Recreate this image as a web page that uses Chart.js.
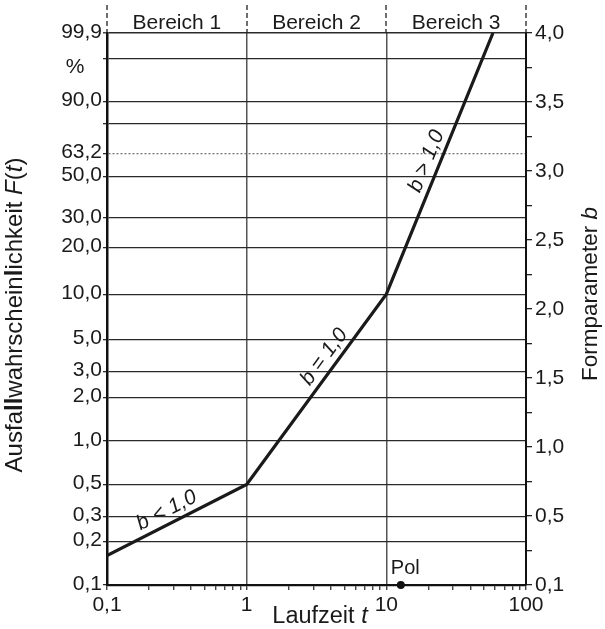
<!DOCTYPE html>
<html>
<head>
<meta charset="utf-8">
<script src="https://cdn.jsdelivr.net/npm/chart.js@4.4.0/dist/chart.umd.min.js"></script>
<style>
  html, body { margin: 0; padding: 0; background: #fff; }
  canvas { display: block; }
</style>
</head>
<body>
<canvas id="c" width="605" height="629"></canvas>
<script>
const FONT = "'Liberation Sans', Arial, Helvetica, sans-serif";

// Laufzeit t and Ausfallwahrscheinlichkeit F(t) in %
const lineT = [0.1, 1, 10, 58];
const lineF = [0.16, 0.5, 10, 99.9];

const polT = [12.7];
const polF = [0.1];
const polLabel = 'Pol';

const probTicks  = [0.1, 0.2, 0.3, 0.5, 1, 2, 3, 5, 10, 20, 30, 50, 63.2, 80, 90, 98, 99, 99.9];
const probLabels = ['0,1', '0,2', '0,3', '0,5', '1,0', '2,0', '3,0', '5,0', '10,0', '20,0', '30,0', '50,0', '63,2', '', '90,0', '%   ', '', '99,9'];

const timeTicks  = [0.1, 1, 10, 100];
const timeLabels = ['0,1', '1', '10', '100'];

const bTicks  = [0, 0.5, 1, 1.5, 2, 2.5, 3, 3.5, 4];
const bLabels = ['0,1', '0,5', '1,0', '1,5', '2,0', '2,5', '3,0', '3,5', '4,0'];

const regionLabels = ['Bereich 1', 'Bereich 2', 'Bereich 3'];
const slopeLabels  = ['b < 1,0', 'b = 1,0', 'b > 1,0'];

// Weibull probability axis: y = ln(-ln(1 - F))
const weibull = v => Math.log(-Math.log(1 - v / 100));

class WeibullScale extends Chart.Scale {
  static id = 'weibull';
  static defaults = {};
  parse(raw) { const v = +raw; return isFinite(v) ? v : null; }
  determineDataLimits() { this.min = this.options.min; this.max = this.options.max; }
  buildTicks() { return []; }
  configure() {
    super.configure();
    this._w0 = weibull(this.min);
    this._wr = weibull(this.max) - this._w0;
  }
  getLabelForValue(v) { return String(v); }
  getPixelForValue(v) {
    if (v == null || isNaN(v)) return NaN;
    return this.getPixelForDecimal((weibull(v) - this._w0) / this._wr);
  }
  getValueForPixel(p) {
    const w = this._w0 + this.getDecimalForPixel(p) * this._wr;
    return 100 * (1 - Math.exp(-Math.exp(w)));
  }
}
Chart.register(WeibullScale);

Chart.defaults.font.family = FONT;
Chart.defaults.font.size = 21;
Chart.defaults.color = '#1a1a1a';

function drawRuns(ctx, runs, size, x, y, angle) {
  ctx.save();
  ctx.translate(x, y);
  ctx.rotate(angle);
  const fonts = runs.map(r => `${r.i ? 'italic ' : ''}${r.b ? 'bold ' : ''}${size}px ${FONT}`);
  let w = 0;
  runs.forEach((r, k) => { ctx.font = fonts[k]; w += ctx.measureText(r.t).width; });
  let cx = -w / 2;
  ctx.textAlign = 'left';
  ctx.textBaseline = 'middle';
  runs.forEach((r, k) => {
    ctx.font = fonts[k];
    ctx.fillText(r.t, cx, 0);
    cx += ctx.measureText(r.t).width;
  });
  ctx.restore();
}

const notes = {
  id: 'notes',
  afterDraw(chart) {
    const { ctx, chartArea: a, scales } = chart;
    const x = scales.x;
    ctx.save();
    ctx.fillStyle = '#1a1a1a';

    // Bereich separators + labels
    ctx.strokeStyle = '#222';
    ctx.lineWidth = 1.3;
    ctx.setLineDash([5, 3]);
    timeTicks.forEach(t => {
      const px = Math.round(x.getPixelForValue(t));
      ctx.beginPath(); ctx.moveTo(px, 5); ctx.lineTo(px, a.top); ctx.stroke();
    });
    ctx.setLineDash([]);
    ctx.font = `21px ${FONT}`;
    ctx.textAlign = 'center';
    ctx.textBaseline = 'alphabetic';
    regionLabels.forEach((t, i) => {
      const cx = (x.getPixelForValue(timeTicks[i]) + x.getPixelForValue(timeTicks[i + 1])) / 2;
      ctx.fillText(t, cx, 29);
    });

    // slope labels along the line
    const pts = chart.getDatasetMeta(0).data;
    const segs = [[0, 1, 0.47], [1, 2, 0.63], [2, 3, 0.49]];
    ctx.font = `italic 21px ${FONT}`;
    ctx.textBaseline = 'middle';
    segs.forEach(([i0, i1, f], k) => {
      const p0 = pts[i0], p1 = pts[i1];
      const dx = p1.x - p0.x, dy = p1.y - p0.y;
      const len = Math.hypot(dx, dy);
      const ux = dx / len, uy = dy / len;
      const cx = p0.x + dx * f + uy * 13;
      const cy = p0.y + dy * f - ux * 13;
      ctx.save();
      ctx.translate(cx, cy);
      ctx.rotate(Math.atan2(dy, dx));
      ctx.fillText(slopeLabels[k], 0, 0);
      ctx.restore();
    });

    // Pol
    const pp = chart.getDatasetMeta(1).data[0];
    ctx.font = `20px ${FONT}`;
    ctx.textAlign = 'left';
    ctx.textBaseline = 'alphabetic';
    ctx.fillText(polLabel, pp.x - 10, pp.y - 11);

    // axis titles
    drawRuns(ctx, [
      { t: 'Ausfa' }, { t: 'll', b: 1 }, { t: 'wahrschein' }, { t: 'l', b: 1 },
      { t: 'ichkeit ' }, { t: 'F', i: 1 }, { t: '(' }, { t: 't', i: 1 }, { t: ')' }
    ], 24, 15.5, 315, -Math.PI / 2);
    drawRuns(ctx, [{ t: 'Formparameter ' }, { t: 'b', i: 1 }], 22.5, 590.5, 294, -Math.PI / 2);
    drawRuns(ctx, [{ t: 'Laufzeit ' }, { t: 't', i: 1 }], 23.5, 320, 616.5, 0);

    ctx.restore();
  }
};

const timeMinor = [];
[0.1, 1, 10].forEach(p => { for (let k = 1; k < 10; k++) timeMinor.push(+(k * p).toFixed(4)); });
timeMinor.push(100);

const labelFor = (vals, labels, v) => {
  const i = vals.findIndex(t => Math.abs(t - v) < 1e-9);
  return i < 0 ? '' : labels[i];
};

new Chart(document.getElementById('c'), {
  type: 'line',
  data: {
    datasets: [{
      data: lineT.map((t, i) => ({ x: t, y: lineF[i] })),
      borderColor: '#1a1a1a',
      borderWidth: 3.2,
      pointRadius: 0,
      tension: 0,
      fill: false
    }, {
      data: polT.map((t, i) => ({ x: t, y: polF[i] })),
      showLine: false,
      pointRadius: 4,
      pointBackgroundColor: '#111',
      pointBorderWidth: 0,
      clip: false
    }]
  },
  options: {
    responsive: false,
    animation: false,
    events: [],
    layout: { padding: { top: 33, left: 0, right: 0, bottom: 0 } },
    plugins: { legend: { display: false }, tooltip: { enabled: false } },
    scales: {
      x: {
        type: 'logarithmic',
        min: 0.1, max: 100,
        afterFit: s => { s.height = 44; },
        afterBuildTicks: s => { s.ticks = timeMinor.map(v => ({ value: v })); },
        ticks: {
          autoSkip: false, maxRotation: 0, minRotation: 0, padding: 3,
          callback: v => labelFor(timeTicks, timeLabels, v)
        },
        grid: {
          color: c => (c.tick && (Math.abs(c.tick.value - 1) < 1e-9 || Math.abs(c.tick.value - 10) < 1e-9)) ? '#555' : 'rgba(0,0,0,0)',
          lineWidth: 1.5,
          tickColor: '#222',
          tickLength: 5,
          tickWidth: 1.2
        },
        border: { color: '#111', width: 2.2 }
      },
      y: {
        type: 'weibull',
        position: 'left',
        min: 0.1, max: 99.9,
        afterFit: s => { s.width = 107; },
        afterBuildTicks: s => { s.ticks = probTicks.map(v => ({ value: v })); },
        ticks: {
          autoSkip: false, padding: 1, labelOffset: -1,
          callback: v => labelFor(probTicks, probLabels, v)
        },
        grid: {
          color: c => {
            const v = c.tick && c.tick.value;
            if (v === 98) return 'rgba(0,0,0,0)';
            if (v === 63.2) return '#777';
            return '#2a2a2a';
          },
          tickColor: c => (c.tick && c.tick.value === 98) ? 'rgba(0,0,0,0)' : '#2a2a2a',
          lineWidth: c => (c.tick && c.tick.value === 99.9) ? 1.6 : 1.3,
          tickLength: 4,
          tickWidth: 1.3
        },
        border: {
          color: '#111', width: 2.5,
          dash: c => (c.tick && c.tick.value === 63.2) ? [2, 2] : []
        }
      },
      b: {
        type: 'linear',
        position: 'right',
        min: 0, max: 4,
        afterFit: s => { s.width = 79; },
        afterBuildTicks: s => {
          const t = [];
          for (let k = 0; k <= 16; k++) t.push({ value: k * 0.25 });
          s.ticks = t;
        },
        ticks: {
          autoSkip: false, padding: 3,
          callback: v => labelFor(bTicks, bLabels, v)
        },
        grid: { drawOnChartArea: false, color: '#222', tickLength: 6, lineWidth: 1.3 },
        border: { color: '#111', width: 2 }
      }
    }
  },
  plugins: [notes]
});
</script>
</body>
</html>
